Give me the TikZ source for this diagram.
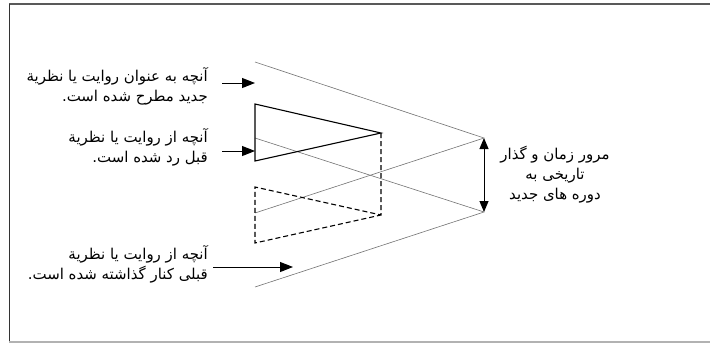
\documentclass[tikz,border=0pt]{standalone}
\usepackage{fontspec}
\TeXXeTstate=1
\newfontfamily\farsi[Script=Arabic]{DejaVu Sans}
\usetikzlibrary{arrows.meta}
\begin{document}
\begin{tikzpicture}[x=1bp,y=-1bp,
  label text/.style={font=\farsi\fontsize{15}{20}\selectfont,align=right,inner sep=0pt},
  guide/.style={draw=black!55,line width=0.6bp},
  wedge/.style={draw=black,line width=1.1bp},
  pointer/.style={-{Triangle[length=13bp,width=10bp]},line width=1bp}]
\useasboundingbox (0,0) rectangle (710,344);
% frame
\draw[black!65,line width=1.6bp] (9,4)--(710,4);
\draw[black!80,line width=0.8bp] (9,4)--(9,342);
\draw[black!30,line width=1.2bp] (9,342)--(710,342);
% apexes and corners
\coordinate (up) at (484,138);
\coordinate (dn) at (484,212);
\coordinate (ua) at (255,62);
\coordinate (ub) at (255,213);
\coordinate (la) at (255,287);
\coordinate (lb) at (255,138);
\coordinate (sa) at (255,104);
\coordinate (sb) at (255,161);
\coordinate (sc) at (381,133);
\coordinate (da) at (255,187);
\coordinate (db) at (255,243);
\coordinate (dc) at (381,215);
% the two wedges
\draw[guide] (ua)--(up)--(ub);
\draw[guide] (la)--(dn)--(lb);
% rejected and dropped parts
\draw[wedge] (sc)--(sa)--(sb)--cycle;
\draw[wedge,dashed,dash pattern=on 5bp off 3bp] (sc)--(dc)--(da)--(db)--(dc);
% time arrow
\draw[{Triangle[length=11bp,width=9bp]}-{Triangle[length=11bp,width=9bp]},line width=1bp] (up)--(dn);
% labels
\node[label text,anchor=east] (tnew) at (208,86) {\beginR آنچه به عنوان روایت یا نظریة\endR\\\beginR جدید مطرح شده است.\endR};
\node[label text,anchor=east] (trej) at (208,147) {\beginR آنچه از روایت یا نظریة\endR\\\beginR قبل رد شده است.\endR};
\node[label text,anchor=east] (tdrop) at (208,264) {\beginR آنچه از روایت یا نظریة\endR\\\beginR قبلی کنار گذاشته شده است.\endR};
\node[label text,align=center] (ttime) at (555,175) {\beginR مرور زمان و گذار\endR\\\beginR تاریخی به\endR\\\beginR دوره های جدید\endR};
% pointers
\coordinate (pnew) at (222,83);
\coordinate (prej) at (222,151);
\coordinate (pdrop) at (213,267);
\draw[pointer] (pnew)--(pnew-|sa);
\draw[pointer] (prej)--(prej-|sa);
\draw[pointer] (pdrop)--++(80,0);
\end{tikzpicture}
\end{document}
